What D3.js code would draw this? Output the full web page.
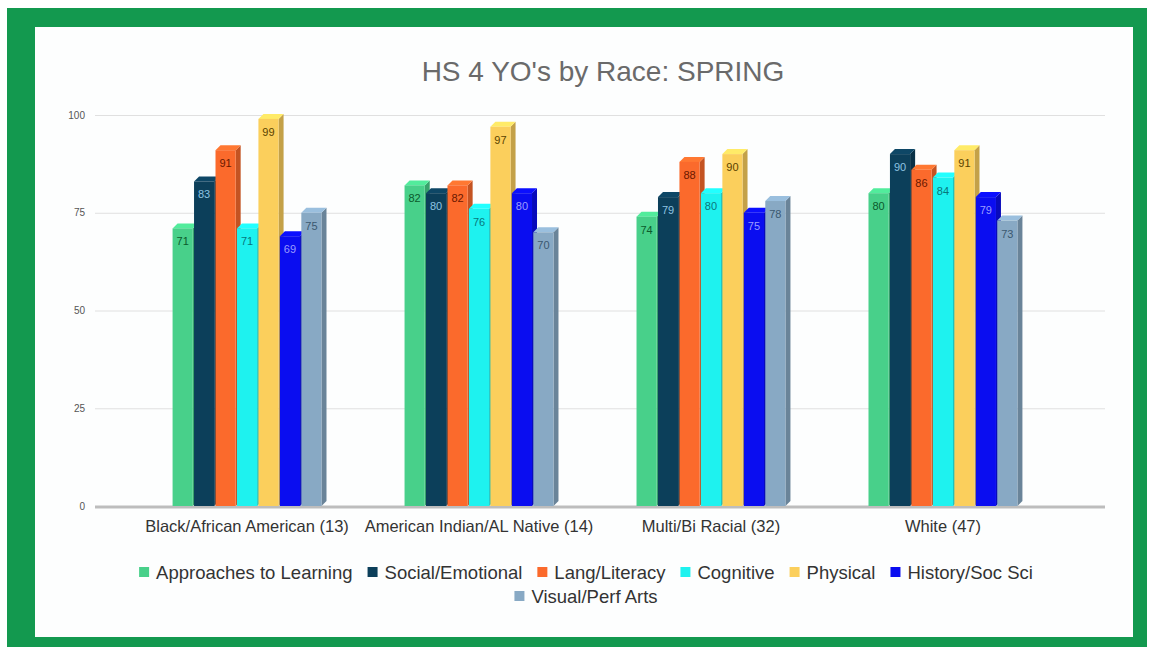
<!DOCTYPE html>
<html>
<head>
<meta charset="utf-8">
<script src="https://cdn.jsdelivr.net/npm/d3@7"></script>
<style>
  body { margin: 0; background: #fff; }
  text { font-family: "Liberation Sans", Arial, sans-serif; }
</style>
</head>
<body>
<div id="chart"></div>
<script>
// data
var groups = ["Black/African American (13)", "American Indian/AL Native (14)", "Multi/Bi Racial (32)", "White (47)"];
var seriesNames = ["Approaches to Learning", "Social/Emotional", "Lang/Literacy", "Cognitive", "Physical", "History/Soc Sci", "Visual/Perf Arts"];
var approaches = [71, 82, 74, 80];
var social = [83, 80, 79, 90];
var lang = [91, 82, 88, 86];
var cognitive = [71, 76, 80, 84];
var physical = [99, 97, 90, 91];
var historySoc = [69, 80, 75, 79];
var visual = [75, 70, 78, 73];
var yTicks = [0, 25, 50, 75, 100];

var colors = ["#48d08a", "#0c3f5a", "#fb6a2c", "#1ef2ef", "#fbcf5c", "#0a0df0", "#88a9c4"];
var labelColors = ["#0b5a2c", "#8ec4e2", "#6a1800", "#08777c", "#5a4300", "#9b9cff", "#3b5870"];

var allValues = [approaches, social, lang, cognitive, physical, historySoc, visual];

var W = 1149, H = 647;
var svg = d3.select("#chart").append("svg")
    .attr("width", W)
    .attr("height", H);

// green frame
svg.append("rect").attr("x", 7).attr("y", 8).attr("width", 1140).attr("height", 639).attr("fill", "#13994f");
svg.append("rect").attr("x", 35).attr("y", 27).attr("width", 1098).attr("height", 610).attr("fill", "#fdfefe");

// title
svg.append("text")
    .attr("x", 603).attr("y", 81)
    .attr("text-anchor", "middle")
    .attr("font-size", 28)
    .attr("fill", "#6a6a6a")
    .text("HS 4 YO's by Race: SPRING");

var y = d3.scaleLinear().domain([0, 100]).range([506, 115]);
var x0 = d3.scaleBand().domain(groups).range([90, 1100]).paddingInner(0.358).paddingOuter(0.356);
var x1 = d3.scaleBand().domain(seriesNames).range([0, x0.bandwidth()]).paddingInner(0.06);

// gridlines + y labels
var yAxis = d3.axisLeft(y).tickValues(yTicks).tickSize(-1010).tickPadding(10);
var gy = svg.append("g").attr("transform", "translate(95,0)").call(yAxis);
gy.select(".domain").remove();
gy.selectAll("line").attr("stroke", "#e0e0e0");
gy.selectAll("text").attr("font-size", 10).attr("fill", "#555");

// floor line
svg.append("line").attr("x1", 95).attr("x2", 1105).attr("y1", y(0) + 1).attr("y2", y(0) + 1)
    .attr("stroke", "#bdbdbd").attr("stroke-width", 3);

// x category labels
var xAxis = d3.axisBottom(x0).tickSize(0).tickPadding(14);
var gx = svg.append("g").attr("transform", "translate(0," + y(0) + ")").call(xAxis);
gx.select(".domain").remove();
gx.selectAll("text").attr("font-size", 16.5).attr("fill", "#333").attr("font-family", "Liberation Sans, Arial, sans-serif");

// 3d bars
var D = 5;
var rows = [];
groups.forEach(function(g, gi) {
    seriesNames.forEach(function(s, si) {
        rows.push({group: g, series: s, si: si, value: allValues[si][gi]});
    });
});

var bars = svg.selectAll("g.bar")
    .data(rows)
    .enter()
    .append("g")
    .attr("class", "bar")
    .attr("transform", function(d) { return "translate(" + (x0(d.group) + x1(d.series)) + ",0)"; });

var bw = x1.bandwidth();
var y0 = y(0);

bars.append("path")
    .attr("fill", function(d) { return d3.rgb(colors[d.si]).darker(0.7); })
    .attr("d", function(d) {
        var t = y(d.value);
        return "M" + bw + "," + t + "L" + (bw + D) + "," + (t - D) + "L" + (bw + D) + "," + (y0 - D) + "L" + bw + "," + y0 + "Z";
    });

bars.append("path")
    .attr("fill", function(d) { return d3.rgb(colors[d.si]).brighter(0.35); })
    .attr("d", function(d) {
        var t = y(d.value);
        return "M0," + t + "L" + D + "," + (t - D) + "L" + (bw + D) + "," + (t - D) + "L" + bw + "," + t + "Z";
    });

bars.append("rect")
    .attr("y", function(d) { return y(d.value); })
    .attr("width", bw)
    .attr("height", function(d) { return y0 - y(d.value); })
    .attr("fill", function(d) { return colors[d.si]; });

bars.append("text")
    .attr("x", bw / 2)
    .attr("y", function(d) { return y(d.value) + 17; })
    .attr("text-anchor", "middle")
    .attr("font-size", 11)
    .attr("fill", function(d) { return labelColors[d.si]; })
    .text(function(d) { return d.value; });

// legend, two centred rows
var legendRows = [seriesNames.slice(0, 6), seriesNames.slice(6)];
var legendY = [579, 603];
legendRows.forEach(function(names, ri) {
    var lg = svg.append("g");
    var cx = 0;
    names.forEach(function(name) {
        var si = seriesNames.indexOf(name);
        var item = lg.append("g").attr("transform", "translate(" + cx + ",0)");
        item.append("rect").attr("x", 0).attr("y", -12).attr("width", 10).attr("height", 10).attr("fill", colors[si]);
        var t = item.append("text").attr("x", 17).attr("y", 0).attr("font-size", 18.5).attr("fill", "#333").text(name);
        cx += 17 + t.node().getComputedTextLength() + 15;
    });
    cx -= 15;
    lg.attr("transform", "translate(" + (586 - cx / 2) + "," + legendY[ri] + ")");
});
</script>
</body>
</html>
